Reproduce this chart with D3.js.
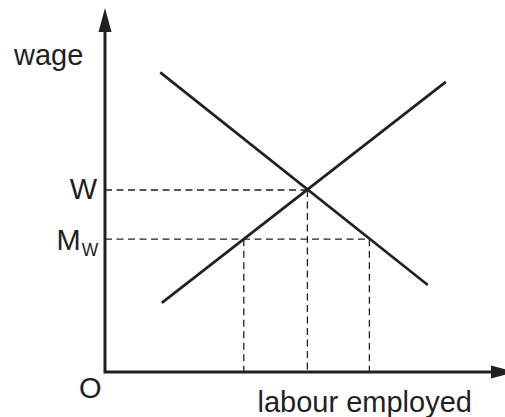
<!DOCTYPE html>
<html><head><meta charset="utf-8">
<script src="https://cdn.jsdelivr.net/npm/d3@7"></script>
<style>html,body{margin:0;padding:0;background:#fff;}svg{display:block;}</style>
</head><body>
<script>
// Data (abstract units: labour 0..10, wage 0..10)
const demandLine = [[1.38, 8.23], [8.07, 2.39]];
const supplyLine = [[1.42, 1.90], [8.52, 7.97]];
const equilibriumL = 5.06, equilibriumW = 5.0;
const minWage = 3.65;
const minWageLs = 3.47, minWageLd = 6.61;
const axisLabels = ["wage", "labour employed", "O"];
const wageLabels = ["W", "M", "W"]; // W, M with subscript W

const width = 505, height = 417;
const x = d3.scaleLinear().domain([0, 10]).range([105, 505]);
const y = d3.scaleLinear().domain([0, 10]).range([372, 8]);
const ink = "#231f20";
const font = "'Liberation Sans', Arial, Helvetica, sans-serif";

const svg = d3.select("body").append("svg").attr("width", width).attr("height", height);

// dashed guide lines
const dash = svg.append("g").attr("stroke", ink).attr("stroke-width", 1.3)
  .attr("stroke-dasharray", "7,4.5").attr("fill", "none");
const guides = [
  [[0, equilibriumW], [equilibriumL, equilibriumW]],
  [[0, minWage], [minWageLd, minWage]],
  [[minWageLs, minWage], [minWageLs, 0]],
  [[equilibriumL, equilibriumW], [equilibriumL, 0]],
  [[minWageLd, minWage], [minWageLd, 0]]
];
const line = d3.line().x(d => x(d[0])).y(d => y(d[1]));
guides.forEach(g => dash.append("path").attr("d", line(g)));

// demand and supply
[demandLine, supplyLine].forEach(l =>
  svg.append("path").attr("d", line(l)).attr("stroke", ink).attr("stroke-width", 2.7).attr("fill", "none"));

// axes
const x0 = x(0), y0 = y(0);
const yTip = y(10), xTip = x(10.25);
svg.append("path").attr("stroke", ink).attr("stroke-width", 3).attr("fill", "none")
  .attr("stroke-linejoin", "miter")
  .attr("d", `M${x0},${yTip + 20}V${y0}H${xTip - 20}`);
// arrowheads
svg.append("path").attr("fill", ink)
  .attr("d", `M${x0},${yTip}L${x0 - 6.5},${yTip + 24}L${x0 + 6.5},${yTip + 24}Z`);
svg.append("path").attr("fill", ink)
  .attr("d", `M${xTip},${y0}L${xTip - 24},${y0 - 6.5}L${xTip - 24},${y0 + 6.5}Z`);

// text
const t = svg.append("g").attr("fill", ink).attr("font-family", font).attr("font-size", 29);
t.append("text").attr("x", 14).attr("y", 65).text(axisLabels[0]);
t.append("text").attr("x", 257.5).attr("y", 411.5).text(axisLabels[1]);
t.append("text").attr("x", 79).attr("y", 398).text(axisLabels[2]);
t.append("text").attr("x", 97).attr("y", y(equilibriumW) + 9).attr("text-anchor", "end").text(wageLabels[0]);
const mw = t.append("text").attr("x", 56.5).attr("y", y(minWage) + 10.5);
mw.append("tspan").text(wageLabels[1]);
mw.append("tspan").attr("font-size", 17.5).attr("dy", 6).attr("dx", 1).text(wageLabels[2]);
</script>
</body></html>
